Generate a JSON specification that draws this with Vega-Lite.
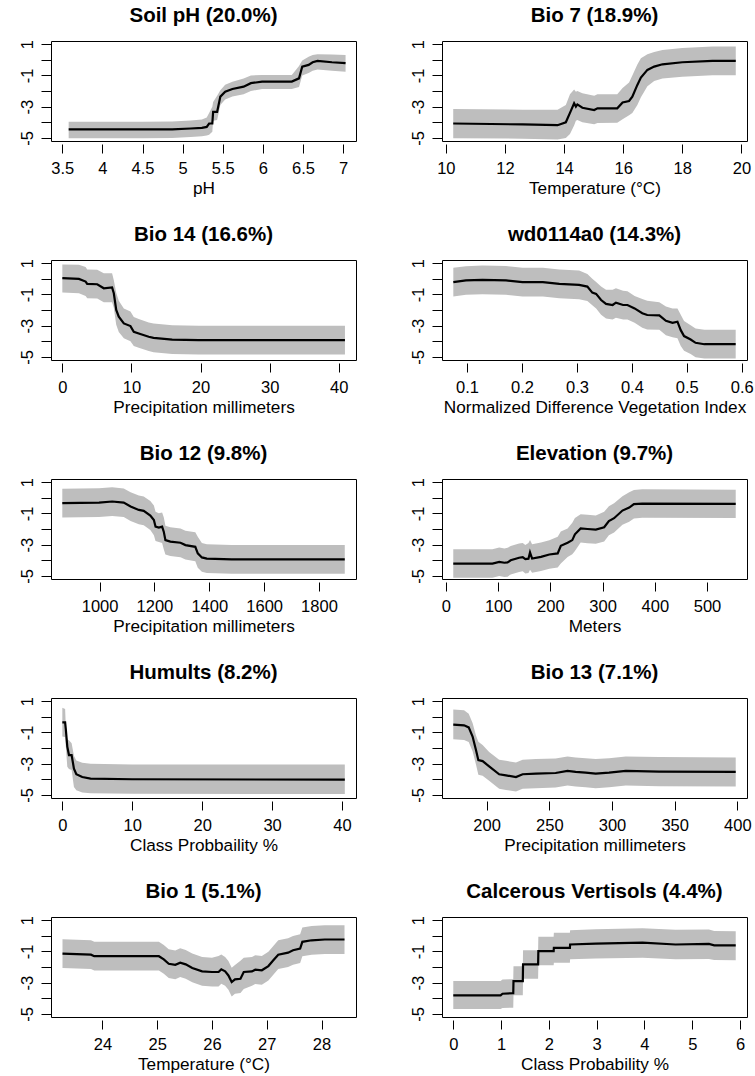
{
  "$schema": "https://vega.github.io/schema/vega-lite/v6.json",
  "background": "white",
  "padding": {"left": 18, "top": 5, "right": 2, "bottom": 2},
  "columns": 2,
  "spacing": {"row": 119, "column": 86},
  "bounds": "flush",
  "config": {
    "view": {"stroke": "black", "strokeWidth": 1},
    "font": "Liberation Sans",
    "axis": {"domain": false, "grid": false, "tickColor": "black", "tickWidth": 1, "labelColor": "black", "titleColor": "black", "labelFont": "Liberation Sans", "titleFont": "Liberation Sans", "labelFontSize": 16.5, "titleFontSize": 17.2, "titleFontWeight": "normal", "labelOverlap": false, "labelFlush": false, "labelBound": false},
    "axisX": {"offset": 3, "tickSize": 9, "labelPadding": 7, "titlePadding": 3, "format": "~r"},
    "axisY": {"tickSize": 10, "labelAngle": 270, "labelAlign": "center", "labelBaseline": "alphabetic", "labelPadding": 9},
    "title": {"fontSize": 20.5, "fontWeight": "bold", "font": "Liberation Sans", "color": "black", "baseline": "alphabetic", "offset": 13, "anchor": "middle"}
  },
  "datasets": {
    "p1": [
      {"x": 3.58, "y": -4.46, "lo": -5.02, "hi": -3.97},
      {"x": 4.0, "y": -4.46, "lo": -5.02, "hi": -3.97},
      {"x": 4.5, "y": -4.46, "lo": -5.02, "hi": -3.97},
      {"x": 4.87, "y": -4.45, "lo": -5.0, "hi": -3.95},
      {"x": 5.1, "y": -4.4, "lo": -4.95, "hi": -3.88},
      {"x": 5.24, "y": -4.36, "lo": -4.9, "hi": -3.82},
      {"x": 5.3, "y": -4.3, "lo": -4.85, "hi": -3.7},
      {"x": 5.33, "y": -4.08, "lo": -4.8, "hi": -3.4},
      {"x": 5.37, "y": -4.08, "lo": -4.6, "hi": -3.0},
      {"x": 5.38, "y": -3.33, "lo": -3.9, "hi": -2.7},
      {"x": 5.43, "y": -3.33, "lo": -3.85, "hi": -2.3},
      {"x": 5.47, "y": -2.36, "lo": -2.9, "hi": -1.95},
      {"x": 5.53, "y": -2.04, "lo": -2.55, "hi": -1.6},
      {"x": 5.62, "y": -1.87, "lo": -2.35, "hi": -1.4},
      {"x": 5.76, "y": -1.72, "lo": -2.2, "hi": -1.2},
      {"x": 5.85, "y": -1.5, "lo": -2.0, "hi": -1.0},
      {"x": 5.99, "y": -1.4, "lo": -1.87, "hi": -0.97},
      {"x": 6.2, "y": -1.4, "lo": -1.87, "hi": -0.97},
      {"x": 6.36, "y": -1.4, "lo": -1.87, "hi": -0.97},
      {"x": 6.45, "y": -1.19, "lo": -1.75, "hi": -0.4},
      {"x": 6.49, "y": -0.44, "lo": -1.0, "hi": -0.05},
      {"x": 6.57, "y": -0.33, "lo": -0.85, "hi": 0.2},
      {"x": 6.62, "y": -0.16, "lo": -0.7, "hi": 0.3},
      {"x": 6.68, "y": -0.07, "lo": -0.62, "hi": 0.36},
      {"x": 6.86, "y": -0.16, "lo": -0.7, "hi": 0.33},
      {"x": 7.03, "y": -0.22, "lo": -0.76, "hi": 0.3}
    ],
    "p2": [
      {"x": 10.25, "y": -4.08, "lo": -5.02, "hi": -3.15},
      {"x": 12.6, "y": -4.14, "lo": -5.05, "hi": -3.2},
      {"x": 13.78, "y": -4.19, "lo": -5.1, "hi": -3.2},
      {"x": 14.06, "y": -4.0, "lo": -5.0, "hi": -2.9},
      {"x": 14.2, "y": -3.4, "lo": -4.75, "hi": -2.2},
      {"x": 14.34, "y": -2.79, "lo": -4.2, "hi": -1.9},
      {"x": 14.4, "y": -3.0, "lo": -3.9, "hi": -2.05},
      {"x": 14.45, "y": -2.86, "lo": -3.85, "hi": -2.0},
      {"x": 14.62, "y": -3.07, "lo": -4.0, "hi": -2.15},
      {"x": 15.02, "y": -3.22, "lo": -4.12, "hi": -2.3},
      {"x": 15.13, "y": -3.11, "lo": -4.05, "hi": -2.2},
      {"x": 15.8, "y": -3.11, "lo": -4.03, "hi": -2.2},
      {"x": 15.98, "y": -2.73, "lo": -3.8, "hi": -1.8},
      {"x": 16.2, "y": -2.64, "lo": -3.55, "hi": -1.45},
      {"x": 16.31, "y": -2.36, "lo": -3.4, "hi": -1.0},
      {"x": 16.48, "y": -1.61, "lo": -2.9, "hi": -0.3},
      {"x": 16.6, "y": -1.14, "lo": -2.4, "hi": 0.1},
      {"x": 16.82, "y": -0.65, "lo": -1.7, "hi": 0.35},
      {"x": 17.05, "y": -0.44, "lo": -1.36, "hi": 0.5},
      {"x": 17.33, "y": -0.29, "lo": -1.2, "hi": 0.62},
      {"x": 18.0, "y": -0.16, "lo": -1.08, "hi": 0.76},
      {"x": 19.02, "y": -0.07, "lo": -0.99, "hi": 0.85},
      {"x": 19.81, "y": -0.07, "lo": -0.99, "hi": 0.85}
    ],
    "p3": [
      {"x": 0, "y": 0.04, "lo": -0.88, "hi": 0.92},
      {"x": 2.4, "y": -0.01, "lo": -0.93, "hi": 0.9},
      {"x": 3.37, "y": -0.18, "lo": -1.1, "hi": 0.75},
      {"x": 3.6, "y": -0.33, "lo": -1.25, "hi": 0.6},
      {"x": 5.05, "y": -0.35, "lo": -1.27, "hi": 0.58},
      {"x": 6.0, "y": -0.61, "lo": -1.5, "hi": 0.35},
      {"x": 7.2, "y": -0.56, "lo": -1.5, "hi": 0.35},
      {"x": 7.45, "y": -0.93, "lo": -1.85, "hi": -0.1},
      {"x": 7.8, "y": -2.0, "lo": -2.95, "hi": -0.9},
      {"x": 8.17, "y": -2.43, "lo": -3.4, "hi": -1.4},
      {"x": 8.9, "y": -2.86, "lo": -3.8, "hi": -1.9},
      {"x": 9.86, "y": -3.03, "lo": -4.0, "hi": -2.1},
      {"x": 10.34, "y": -3.39, "lo": -4.3, "hi": -2.45},
      {"x": 11.06, "y": -3.5, "lo": -4.42, "hi": -2.58},
      {"x": 12.5, "y": -3.71, "lo": -4.63, "hi": -2.8},
      {"x": 13.2, "y": -3.78, "lo": -4.7, "hi": -2.86},
      {"x": 15.9, "y": -3.89, "lo": -4.81, "hi": -2.97},
      {"x": 19.7, "y": -3.93, "lo": -4.85, "hi": -3.0},
      {"x": 30, "y": -3.93, "lo": -4.85, "hi": -3.0},
      {"x": 40.9, "y": -3.93, "lo": -4.85, "hi": -3.0}
    ],
    "p4": [
      {"x": 0.075, "y": -0.22, "lo": -1.14, "hi": 0.7},
      {"x": 0.098, "y": -0.11, "lo": -1.03, "hi": 0.8},
      {"x": 0.128, "y": -0.07, "lo": -0.99, "hi": 0.85},
      {"x": 0.171, "y": -0.11, "lo": -1.03, "hi": 0.81},
      {"x": 0.201, "y": -0.22, "lo": -1.14, "hi": 0.7},
      {"x": 0.238, "y": -0.22, "lo": -1.14, "hi": 0.7},
      {"x": 0.268, "y": -0.33, "lo": -1.25, "hi": 0.6},
      {"x": 0.304, "y": -0.39, "lo": -1.31, "hi": 0.53},
      {"x": 0.319, "y": -0.5, "lo": -1.42, "hi": 0.3},
      {"x": 0.328, "y": -0.89, "lo": -1.7, "hi": 0.0},
      {"x": 0.335, "y": -0.97, "lo": -1.9, "hi": -0.2},
      {"x": 0.344, "y": -1.36, "lo": -2.3, "hi": -0.5},
      {"x": 0.353, "y": -1.61, "lo": -2.55, "hi": -0.7},
      {"x": 0.365, "y": -1.68, "lo": -2.6, "hi": -0.7},
      {"x": 0.371, "y": -1.53, "lo": -2.5, "hi": -0.6},
      {"x": 0.384, "y": -1.68, "lo": -2.6, "hi": -0.76},
      {"x": 0.392, "y": -1.68, "lo": -2.6, "hi": -0.8},
      {"x": 0.405, "y": -1.9, "lo": -2.82, "hi": -1.1},
      {"x": 0.419, "y": -2.21, "lo": -3.13, "hi": -1.3},
      {"x": 0.428, "y": -2.32, "lo": -3.24, "hi": -1.4},
      {"x": 0.45, "y": -2.34, "lo": -3.26, "hi": -1.5},
      {"x": 0.462, "y": -2.69, "lo": -3.61, "hi": -1.77},
      {"x": 0.474, "y": -2.82, "lo": -3.74, "hi": -1.9},
      {"x": 0.483, "y": -2.75, "lo": -3.8, "hi": -1.9},
      {"x": 0.489, "y": -3.29, "lo": -4.3, "hi": -2.3},
      {"x": 0.495, "y": -3.67, "lo": -4.6, "hi": -2.7},
      {"x": 0.507, "y": -3.89, "lo": -4.81, "hi": -2.97},
      {"x": 0.516, "y": -4.1, "lo": -5.02, "hi": -3.18},
      {"x": 0.532, "y": -4.19, "lo": -5.11, "hi": -3.27},
      {"x": 0.589, "y": -4.19, "lo": -5.11, "hi": -3.27}
    ],
    "p5": [
      {"x": 864, "y": -0.35, "lo": -1.27, "hi": 0.57},
      {"x": 998, "y": -0.31, "lo": -1.23, "hi": 0.61},
      {"x": 1046, "y": -0.24, "lo": -1.16, "hi": 0.68},
      {"x": 1088, "y": -0.31, "lo": -1.23, "hi": 0.6},
      {"x": 1113, "y": -0.56, "lo": -1.48, "hi": 0.36},
      {"x": 1143, "y": -0.78, "lo": -1.7, "hi": 0.14},
      {"x": 1161, "y": -0.84, "lo": -1.76, "hi": 0.08},
      {"x": 1185, "y": -1.14, "lo": -2.06, "hi": -0.2},
      {"x": 1198, "y": -1.42, "lo": -2.4, "hi": -0.5},
      {"x": 1204, "y": -1.85, "lo": -2.77, "hi": -0.9},
      {"x": 1216, "y": -1.91, "lo": -2.83, "hi": -0.99},
      {"x": 1228, "y": -1.85, "lo": -2.9, "hi": -0.95},
      {"x": 1234, "y": -2.17, "lo": -3.3, "hi": -1.25},
      {"x": 1240, "y": -2.71, "lo": -3.63, "hi": -1.79},
      {"x": 1258, "y": -2.81, "lo": -3.73, "hi": -1.89},
      {"x": 1295, "y": -2.88, "lo": -3.8, "hi": -1.96},
      {"x": 1313, "y": -3.03, "lo": -3.95, "hi": -2.11},
      {"x": 1349, "y": -3.14, "lo": -4.06, "hi": -2.2},
      {"x": 1358, "y": -3.56, "lo": -4.48, "hi": -2.5},
      {"x": 1373, "y": -3.82, "lo": -4.74, "hi": -2.9},
      {"x": 1391, "y": -3.9, "lo": -4.82, "hi": -2.98},
      {"x": 1482, "y": -3.95, "lo": -4.87, "hi": -3.03},
      {"x": 1894, "y": -3.95, "lo": -4.87, "hi": -3.03}
    ],
    "p6": [
      {"x": 14, "y": -4.21, "lo": -5.12, "hi": -3.3},
      {"x": 89, "y": -4.21, "lo": -5.12, "hi": -3.3},
      {"x": 102, "y": -4.1, "lo": -5.01, "hi": -3.19},
      {"x": 112, "y": -4.16, "lo": -5.07, "hi": -3.25},
      {"x": 118, "y": -4.14, "lo": -5.05, "hi": -3.2},
      {"x": 124, "y": -4.0, "lo": -4.91, "hi": -3.09},
      {"x": 140, "y": -3.84, "lo": -4.75, "hi": -2.93},
      {"x": 147, "y": -3.8, "lo": -4.71, "hi": -2.89},
      {"x": 152, "y": -3.93, "lo": -4.84, "hi": -3.02},
      {"x": 158, "y": -3.9, "lo": -4.81, "hi": -2.9},
      {"x": 161, "y": -3.5, "lo": -4.6, "hi": -2.7},
      {"x": 165, "y": -3.89, "lo": -4.8, "hi": -2.98},
      {"x": 182, "y": -3.78, "lo": -4.69, "hi": -2.87},
      {"x": 198, "y": -3.63, "lo": -4.54, "hi": -2.72},
      {"x": 214, "y": -3.56, "lo": -4.47, "hi": -2.5},
      {"x": 220, "y": -3.07, "lo": -4.2, "hi": -2.16},
      {"x": 233, "y": -2.88, "lo": -3.79, "hi": -1.97},
      {"x": 242, "y": -2.71, "lo": -3.62, "hi": -1.6},
      {"x": 247, "y": -2.34, "lo": -3.4, "hi": -1.3},
      {"x": 258, "y": -1.96, "lo": -2.87, "hi": -1.05},
      {"x": 271, "y": -2.0, "lo": -2.91, "hi": -1.09},
      {"x": 287, "y": -2.04, "lo": -2.95, "hi": -1.13},
      {"x": 303, "y": -1.89, "lo": -2.8, "hi": -0.9},
      {"x": 312, "y": -1.49, "lo": -2.4, "hi": -0.55},
      {"x": 322, "y": -1.31, "lo": -2.22, "hi": -0.35},
      {"x": 338, "y": -0.82, "lo": -1.73, "hi": 0.1},
      {"x": 351, "y": -0.63, "lo": -1.54, "hi": 0.35},
      {"x": 360, "y": -0.41, "lo": -1.32, "hi": 0.5},
      {"x": 376, "y": -0.37, "lo": -1.28, "hi": 0.54},
      {"x": 555, "y": -0.39, "lo": -1.3, "hi": 0.52}
    ],
    "p7": [
      {"x": 0.0, "y": -0.36, "lo": -1.27, "hi": 0.57},
      {"x": 0.4, "y": -0.36, "lo": -1.3, "hi": 0.5},
      {"x": 0.5, "y": -0.8, "lo": -1.9, "hi": -0.6},
      {"x": 0.71, "y": -1.91, "lo": -3.2, "hi": -1.45},
      {"x": 0.95, "y": -2.45, "lo": -3.35, "hi": -1.5},
      {"x": 1.33, "y": -2.45, "lo": -3.4, "hi": -1.7},
      {"x": 1.66, "y": -3.32, "lo": -4.5, "hi": -2.5},
      {"x": 2.0, "y": -3.68, "lo": -4.7, "hi": -2.8},
      {"x": 2.85, "y": -3.86, "lo": -4.85, "hi": -2.95},
      {"x": 4.04, "y": -3.96, "lo": -4.9, "hi": -3.0},
      {"x": 10, "y": -4.0, "lo": -4.93, "hi": -3.06},
      {"x": 40.4, "y": -4.03, "lo": -4.95, "hi": -3.06}
    ],
    "p8": [
      {"x": 173.4, "y": -0.51, "lo": -1.44, "hi": 0.46},
      {"x": 182, "y": -0.55, "lo": -1.48, "hi": 0.42},
      {"x": 185.7, "y": -0.68, "lo": -1.61, "hi": 0.2},
      {"x": 188.8, "y": -1.27, "lo": -2.2, "hi": -0.4},
      {"x": 191.5, "y": -2.13, "lo": -3.06, "hi": -1.2},
      {"x": 193.4, "y": -2.78, "lo": -3.71, "hi": -1.6},
      {"x": 196.8, "y": -2.84, "lo": -3.77, "hi": -1.8},
      {"x": 202, "y": -3.17, "lo": -4.1, "hi": -2.25},
      {"x": 210, "y": -3.68, "lo": -4.61, "hi": -2.75},
      {"x": 215.4, "y": -3.75, "lo": -4.68, "hi": -2.82},
      {"x": 223.4, "y": -3.86, "lo": -4.79, "hi": -2.93},
      {"x": 228.7, "y": -3.68, "lo": -4.61, "hi": -2.75},
      {"x": 239.3, "y": -3.64, "lo": -4.57, "hi": -2.71},
      {"x": 255, "y": -3.6, "lo": -4.53, "hi": -2.67},
      {"x": 264.5, "y": -3.47, "lo": -4.4, "hi": -2.54},
      {"x": 271, "y": -3.53, "lo": -4.46, "hi": -2.6},
      {"x": 279, "y": -3.58, "lo": -4.51, "hi": -2.65},
      {"x": 287, "y": -3.64, "lo": -4.57, "hi": -2.71},
      {"x": 297.7, "y": -3.58, "lo": -4.51, "hi": -2.65},
      {"x": 311, "y": -3.47, "lo": -4.4, "hi": -2.54},
      {"x": 337.6, "y": -3.51, "lo": -4.44, "hi": -2.58},
      {"x": 398.7, "y": -3.53, "lo": -4.46, "hi": -2.6}
    ],
    "p9": [
      {"x": 23.27, "y": -1.14, "lo": -2.06, "hi": -0.22},
      {"x": 23.79, "y": -1.21, "lo": -2.13, "hi": -0.29},
      {"x": 23.85, "y": -1.31, "lo": -2.23, "hi": -0.39},
      {"x": 25.03, "y": -1.31, "lo": -2.23, "hi": -0.39},
      {"x": 25.12, "y": -1.51, "lo": -2.43, "hi": -0.59},
      {"x": 25.21, "y": -1.79, "lo": -2.71, "hi": -0.87},
      {"x": 25.33, "y": -1.86, "lo": -2.78, "hi": -0.94},
      {"x": 25.42, "y": -1.72, "lo": -2.64, "hi": -0.8},
      {"x": 25.52, "y": -1.83, "lo": -2.75, "hi": -0.91},
      {"x": 25.64, "y": -2.06, "lo": -2.98, "hi": -1.14},
      {"x": 25.82, "y": -2.28, "lo": -3.2, "hi": -1.36},
      {"x": 26.0, "y": -2.32, "lo": -3.24, "hi": -1.4},
      {"x": 26.12, "y": -2.32, "lo": -3.24, "hi": -1.3},
      {"x": 26.17, "y": -2.15, "lo": -3.07, "hi": -1.2},
      {"x": 26.24, "y": -2.28, "lo": -3.2, "hi": -1.36},
      {"x": 26.3, "y": -2.54, "lo": -3.46, "hi": -1.62},
      {"x": 26.36, "y": -2.96, "lo": -3.88, "hi": -2.04},
      {"x": 26.42, "y": -2.79, "lo": -3.71, "hi": -1.87},
      {"x": 26.52, "y": -2.75, "lo": -3.67, "hi": -1.6},
      {"x": 26.58, "y": -2.32, "lo": -3.4, "hi": -1.4},
      {"x": 26.73, "y": -2.28, "lo": -3.2, "hi": -1.36},
      {"x": 26.79, "y": -2.17, "lo": -3.09, "hi": -1.25},
      {"x": 26.91, "y": -2.21, "lo": -3.13, "hi": -1.29},
      {"x": 27.03, "y": -1.94, "lo": -2.86, "hi": -1.02},
      {"x": 27.12, "y": -1.57, "lo": -2.49, "hi": -0.65},
      {"x": 27.21, "y": -1.21, "lo": -2.13, "hi": -0.29},
      {"x": 27.39, "y": -1.08, "lo": -2.0, "hi": -0.16},
      {"x": 27.48, "y": -0.93, "lo": -1.85, "hi": -0.01},
      {"x": 27.61, "y": -0.82, "lo": -1.74, "hi": 0.1},
      {"x": 27.65, "y": -0.39, "lo": -1.31, "hi": 0.53},
      {"x": 27.82, "y": -0.29, "lo": -1.21, "hi": 0.63},
      {"x": 28.06, "y": -0.24, "lo": -1.16, "hi": 0.68},
      {"x": 28.42, "y": -0.24, "lo": -1.16, "hi": 0.68}
    ],
    "p10": [
      {"x": 0, "y": -3.82, "lo": -4.68, "hi": -2.9},
      {"x": 0.99, "y": -3.82, "lo": -4.68, "hi": -2.9},
      {"x": 1.03, "y": -3.71, "lo": -4.62, "hi": -2.8},
      {"x": 1.255, "y": -3.67, "lo": -4.6, "hi": -2.78},
      {"x": 1.26, "y": -2.9, "lo": -3.8, "hi": -1.95},
      {"x": 1.455, "y": -2.9, "lo": -3.8, "hi": -1.95},
      {"x": 1.46, "y": -1.83, "lo": -2.75, "hi": -0.93},
      {"x": 1.775, "y": -1.83, "lo": -2.75, "hi": -0.93},
      {"x": 1.78, "y": -0.99, "lo": -1.89, "hi": -0.07},
      {"x": 2.1, "y": -0.99, "lo": -1.89, "hi": -0.07},
      {"x": 2.105, "y": -0.78, "lo": -1.72, "hi": 0.19},
      {"x": 2.44, "y": -0.78, "lo": -1.72, "hi": 0.19},
      {"x": 2.445, "y": -0.56, "lo": -1.5, "hi": 0.36},
      {"x": 2.98, "y": -0.5, "lo": -1.45, "hi": 0.42},
      {"x": 3.96, "y": -0.44, "lo": -1.4, "hi": 0.48},
      {"x": 4.65, "y": -0.56, "lo": -1.5, "hi": 0.38},
      {"x": 5.35, "y": -0.52, "lo": -1.48, "hi": 0.4},
      {"x": 5.46, "y": -0.61, "lo": -1.55, "hi": 0.3},
      {"x": 5.91, "y": -0.61, "lo": -1.57, "hi": 0.29}
    ]
  },
  "concat": [
    {
      "title": "Soil pH (20.0%)", "width": 305, "height": 100, "data": {"name": "p1"},
      "encoding": {"x": {"field": "x", "type": "quantitative", "scale": {"domain": [3.36, 7.16], "nice": false, "zero": false}, "axis": {"title": "pH", "values": [3.5, 4, 4.5, 5, 5.5, 6, 6.5, 7]}}},
      "layer": [
        {"mark": {"type": "area", "color": "#bebebe"}, "encoding": {"y": {"field": "lo", "type": "quantitative", "scale": {"domain": [-5.2, 1.2], "nice": false, "zero": false}, "axis": {"title": null, "values": [-5, -4, -3, -2, -1, 0, 1], "labelExpr": "datum.value % 2 == 0 ? '' : '' + datum.value"}}, "y2": {"field": "hi"}}},
        {"mark": {"type": "line", "color": "black", "strokeWidth": 2.2}, "encoding": {"y": {"field": "y", "type": "quantitative", "axis": {"title": null, "values": [-5, -4, -3, -2, -1, 0, 1], "labelExpr": "datum.value % 2 == 0 ? '' : '' + datum.value"}}}}
      ]
    },
    {
      "title": "Bio 7 (18.9%)", "width": 305, "height": 100, "data": {"name": "p2"},
      "encoding": {"x": {"field": "x", "type": "quantitative", "scale": {"domain": [9.87, 20.19], "nice": false, "zero": false}, "axis": {"title": "Temperature (°C)", "values": [10, 12, 14, 16, 18, 20]}}},
      "layer": [
        {"mark": {"type": "area", "color": "#bebebe"}, "encoding": {"y": {"field": "lo", "type": "quantitative", "scale": {"domain": [-5.2, 1.2], "nice": false, "zero": false}, "axis": {"title": null, "values": [-5, -4, -3, -2, -1, 0, 1], "labelExpr": "datum.value % 2 == 0 ? '' : '' + datum.value"}}, "y2": {"field": "hi"}}},
        {"mark": {"type": "line", "color": "black", "strokeWidth": 2.2}, "encoding": {"y": {"field": "y", "type": "quantitative", "axis": {"title": null, "values": [-5, -4, -3, -2, -1, 0, 1], "labelExpr": "datum.value % 2 == 0 ? '' : '' + datum.value"}}}}
      ]
    },
    {
      "title": "Bio 14 (16.6%)", "width": 305, "height": 100, "data": {"name": "p3"},
      "encoding": {"x": {"field": "x", "type": "quantitative", "scale": {"domain": [-1.64, 42.5], "nice": false, "zero": false}, "axis": {"title": "Precipitation millimeters", "values": [0, 10, 20, 30, 40]}}},
      "layer": [
        {"mark": {"type": "area", "color": "#bebebe"}, "encoding": {"y": {"field": "lo", "type": "quantitative", "scale": {"domain": [-5.2, 1.2], "nice": false, "zero": false}, "axis": {"title": null, "values": [-5, -4, -3, -2, -1, 0, 1], "labelExpr": "datum.value % 2 == 0 ? '' : '' + datum.value"}}, "y2": {"field": "hi"}}},
        {"mark": {"type": "line", "color": "black", "strokeWidth": 2.2}, "encoding": {"y": {"field": "y", "type": "quantitative", "axis": {"title": null, "values": [-5, -4, -3, -2, -1, 0, 1], "labelExpr": "datum.value % 2 == 0 ? '' : '' + datum.value"}}}}
      ]
    },
    {
      "title": "wd0114a0 (14.3%)", "width": 305, "height": 100, "data": {"name": "p4"},
      "encoding": {"x": {"field": "x", "type": "quantitative", "scale": {"domain": [0.0544, 0.6096], "nice": false, "zero": false}, "axis": {"title": "Normalized Difference Vegetation Index", "values": [0.1, 0.2, 0.3, 0.4, 0.5, 0.6]}}},
      "layer": [
        {"mark": {"type": "area", "color": "#bebebe"}, "encoding": {"y": {"field": "lo", "type": "quantitative", "scale": {"domain": [-5.2, 1.2], "nice": false, "zero": false}, "axis": {"title": null, "values": [-5, -4, -3, -2, -1, 0, 1], "labelExpr": "datum.value % 2 == 0 ? '' : '' + datum.value"}}, "y2": {"field": "hi"}}},
        {"mark": {"type": "line", "color": "black", "strokeWidth": 2.2}, "encoding": {"y": {"field": "y", "type": "quantitative", "axis": {"title": null, "values": [-5, -4, -3, -2, -1, 0, 1], "labelExpr": "datum.value % 2 == 0 ? '' : '' + datum.value"}}}}
      ]
    },
    {
      "title": "Bio 12 (9.8%)", "width": 305, "height": 100, "data": {"name": "p5"},
      "encoding": {"x": {"field": "x", "type": "quantitative", "scale": {"domain": [822.8, 1935], "nice": false, "zero": false}, "axis": {"title": "Precipitation millimeters", "values": [1000, 1200, 1400, 1600, 1800]}}},
      "layer": [
        {"mark": {"type": "area", "color": "#bebebe"}, "encoding": {"y": {"field": "lo", "type": "quantitative", "scale": {"domain": [-5.2, 1.2], "nice": false, "zero": false}, "axis": {"title": null, "values": [-5, -4, -3, -2, -1, 0, 1], "labelExpr": "datum.value % 2 == 0 ? '' : '' + datum.value"}}, "y2": {"field": "hi"}}},
        {"mark": {"type": "line", "color": "black", "strokeWidth": 2.2}, "encoding": {"y": {"field": "y", "type": "quantitative", "axis": {"title": null, "values": [-5, -4, -3, -2, -1, 0, 1], "labelExpr": "datum.value % 2 == 0 ? '' : '' + datum.value"}}}}
      ]
    },
    {
      "title": "Elevation (9.7%)", "width": 305, "height": 100, "data": {"name": "p6"},
      "encoding": {"x": {"field": "x", "type": "quantitative", "scale": {"domain": [-7.6, 576.6], "nice": false, "zero": false}, "axis": {"title": "Meters", "values": [0, 100, 200, 300, 400, 500]}}},
      "layer": [
        {"mark": {"type": "area", "color": "#bebebe"}, "encoding": {"y": {"field": "lo", "type": "quantitative", "scale": {"domain": [-5.2, 1.2], "nice": false, "zero": false}, "axis": {"title": null, "values": [-5, -4, -3, -2, -1, 0, 1], "labelExpr": "datum.value % 2 == 0 ? '' : '' + datum.value"}}, "y2": {"field": "hi"}}},
        {"mark": {"type": "line", "color": "black", "strokeWidth": 2.2}, "encoding": {"y": {"field": "y", "type": "quantitative", "axis": {"title": null, "values": [-5, -4, -3, -2, -1, 0, 1], "labelExpr": "datum.value % 2 == 0 ? '' : '' + datum.value"}}}}
      ]
    },
    {
      "title": "Humults (8.2%)", "width": 305, "height": 100, "data": {"name": "p7"},
      "encoding": {"x": {"field": "x", "type": "quantitative", "scale": {"domain": [-1.62, 42.0], "nice": false, "zero": false}, "axis": {"title": "Class Probbaility %", "values": [0, 10, 20, 30, 40]}}},
      "layer": [
        {"mark": {"type": "area", "color": "#bebebe"}, "encoding": {"y": {"field": "lo", "type": "quantitative", "scale": {"domain": [-5.2, 1.2], "nice": false, "zero": false}, "axis": {"title": null, "values": [-5, -4, -3, -2, -1, 0, 1], "labelExpr": "datum.value % 2 == 0 ? '' : '' + datum.value"}}, "y2": {"field": "hi"}}},
        {"mark": {"type": "line", "color": "black", "strokeWidth": 2.2}, "encoding": {"y": {"field": "y", "type": "quantitative", "axis": {"title": null, "values": [-5, -4, -3, -2, -1, 0, 1], "labelExpr": "datum.value % 2 == 0 ? '' : '' + datum.value"}}}}
      ]
    },
    {
      "title": "Bio 13 (7.1%)", "width": 305, "height": 100, "data": {"name": "p8"},
      "encoding": {"x": {"field": "x", "type": "quantitative", "scale": {"domain": [164.4, 407.7], "nice": false, "zero": false}, "axis": {"title": "Precipitation millimeters", "values": [200, 250, 300, 350, 400]}}},
      "layer": [
        {"mark": {"type": "area", "color": "#bebebe"}, "encoding": {"y": {"field": "lo", "type": "quantitative", "scale": {"domain": [-5.2, 1.2], "nice": false, "zero": false}, "axis": {"title": null, "values": [-5, -4, -3, -2, -1, 0, 1], "labelExpr": "datum.value % 2 == 0 ? '' : '' + datum.value"}}, "y2": {"field": "hi"}}},
        {"mark": {"type": "line", "color": "black", "strokeWidth": 2.2}, "encoding": {"y": {"field": "y", "type": "quantitative", "axis": {"title": null, "values": [-5, -4, -3, -2, -1, 0, 1], "labelExpr": "datum.value % 2 == 0 ? '' : '' + datum.value"}}}}
      ]
    },
    {
      "title": "Bio 1 (5.1%)", "width": 305, "height": 100, "data": {"name": "p9"},
      "encoding": {"x": {"field": "x", "type": "quantitative", "scale": {"domain": [23.06, 28.63], "nice": false, "zero": false}, "axis": {"title": "Temperature (°C)", "values": [24, 25, 26, 27, 28]}}},
      "layer": [
        {"mark": {"type": "area", "color": "#bebebe"}, "encoding": {"y": {"field": "lo", "type": "quantitative", "scale": {"domain": [-5.2, 1.2], "nice": false, "zero": false}, "axis": {"title": null, "values": [-5, -4, -3, -2, -1, 0, 1], "labelExpr": "datum.value % 2 == 0 ? '' : '' + datum.value"}}, "y2": {"field": "hi"}}},
        {"mark": {"type": "line", "color": "black", "strokeWidth": 2.2}, "encoding": {"y": {"field": "y", "type": "quantitative", "axis": {"title": null, "values": [-5, -4, -3, -2, -1, 0, 1], "labelExpr": "datum.value % 2 == 0 ? '' : '' + datum.value"}}}}
      ]
    },
    {
      "title": "Calcerous Vertisols (4.4%)", "width": 305, "height": 100, "data": {"name": "p10"},
      "encoding": {"x": {"field": "x", "type": "quantitative", "scale": {"domain": [-0.236, 6.146], "nice": false, "zero": false}, "axis": {"title": "Class Probability %", "values": [0, 1, 2, 3, 4, 5, 6]}}},
      "layer": [
        {"mark": {"type": "area", "color": "#bebebe"}, "encoding": {"y": {"field": "lo", "type": "quantitative", "scale": {"domain": [-5.2, 1.2], "nice": false, "zero": false}, "axis": {"title": null, "values": [-5, -4, -3, -2, -1, 0, 1], "labelExpr": "datum.value % 2 == 0 ? '' : '' + datum.value"}}, "y2": {"field": "hi"}}},
        {"mark": {"type": "line", "color": "black", "strokeWidth": 2.2}, "encoding": {"y": {"field": "y", "type": "quantitative", "axis": {"title": null, "values": [-5, -4, -3, -2, -1, 0, 1], "labelExpr": "datum.value % 2 == 0 ? '' : '' + datum.value"}}}}
      ]
    }
  ]
}
